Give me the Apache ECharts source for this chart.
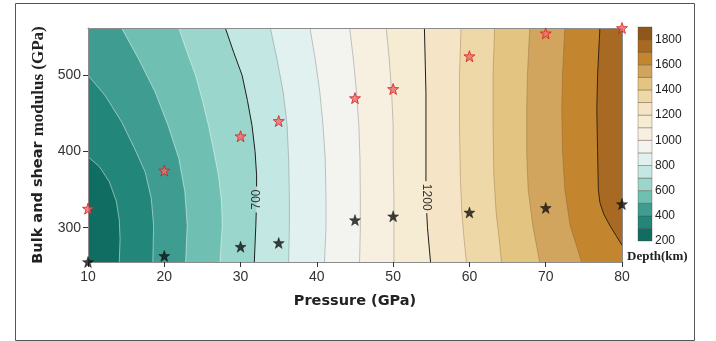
<!DOCTYPE html>
<html>
<head>
<meta charset="utf-8">
<title>Depth contour</title>
<script src="https://cdn.jsdelivr.net/npm/echarts@6/dist/echarts.min.js"></script>
<style>
html,body{margin:0;padding:0;background:#fff;}
#main{width:716px;height:341px;}
</style>
</head>
<body>
<div id="main"></div>
<script>
// star points (pressure GPa, modulus GPa)
var pressure=[10,20,30,35,45,50,60,70,80];
var redModulus=[325,375,420,440,470,482,525,555,562];
var blackModulus=[255,263,275,280,310,315,320,326,331];

var xTicks=[10,20,30,40,50,60,70,80];
var yTicks=[300,400,500];
var barTicks=[200,400,600,800,1000,1200,1400,1600,1800];

// depth bands 200..1900 step 100
var bandLevels=[200,300,400,500,600,700,800,900,1000,1100,1200,1300,1400,1500,1600,1700,1800];
var bandColors=['#0f6e61','#23867a','#3e9c90','#6fc0b3','#9ad6cb','#c3e7e3','#e1f1ef','#f3f3f0','#f7f0e1','#f6ebd3','#f5e5c6','#eed8a8','#e3c581','#d2a55e','#c3862f','#a86a22','#8e571b'];

// contour lines, [pressure, modulus]
var contourLevels=[300,400,500,600,700,800,900,1000,1100,1200,1300,1400,1500,1600,1700];
var c300=[[10,393],[11.5,380],[12.8,360],[13.7,335],[14.1,310],[14.2,285],[14.1,255]];
var c400=[[10,500],[12.2,474],[14.4,439],[16.1,404],[17.5,373],[18.3,338],[18.6,303],[18.5,255]];
var c500=[[14.4,562],[16.6,522],[18.8,478],[20.5,434],[21.9,391],[22.7,347],[23,303],[22.8,255]];
var c600=[[21.9,562],[23,530],[24.1,500],[25,467],[25.8,434],[26.5,400],[27.1,369],[27.5,335],[27.6,303],[27.3,255]];
var c700=[[28.0,562],[29.1,530],[30.2,500],[30.9,467],[31.5,434],[31.9,400],[32.1,369],[32.1,335],[32.0,303],[31.8,255]];
var c800=[[33.9,562],[34.8,520],[35.6,477],[36.1,435],[36.3,390],[36.4,340],[36.4,300],[36.3,255]];
var c900=[[39.1,562],[39.8,520],[40.4,477],[40.8,435],[41.1,390],[41.2,340],[41.2,300],[41.0,255]];
var c1000=[[44.3,562],[44.8,520],[45.2,477],[45.5,435],[45.65,390],[45.7,340],[45.7,300],[45.6,255]];
var c1100=[[49.1,562],[49.5,520],[49.8,477],[50,435],[50,390],[50.1,340],[50.1,300],[50.1,255]];
var c1200=[[54.1,562],[54.2,520],[54.3,477],[54.3,435],[54.3,390],[54.3,340],[54.5,300],[54.9,255]];
var c1300=[[58.9,562],[58.7,500],[58.7,434],[58.8,370],[59.0,320],[59.3,285],[59.6,255]];
var c1400=[[63.3,562],[63.1,500],[63.1,434],[63.2,370],[63.5,320],[63.9,285],[64.2,255]];
var c1500=[[67.9,562],[67.6,500],[67.5,455],[67.5,400],[67.7,350],[68.3,303],[69.2,255]];
var c1600=[[72.5,562],[72.2,500],[72.1,455],[72.2,400],[72.5,350],[73.2,303],[74.7,255]];
var c1700=[[77.1,562],[76.8,500],[76.7,455],[76.8,400],[76.9,350],[77.1,333],[77.6,318],[78.4,303],[79.2,290],[80,277]];
var contours=[c300,c400,c500,c600,c700,c800,c900,c1000,c1100,c1200,c1300,c1400,c1500,c1600,c1700];

var pMin=10,pMax=80,mMin=255,mMax=562;

function lineStyleFor(level){
	if(level==700||level==1200) return {stroke:'#1e1e1e',lineWidth:1};
	if(level==1700) return {stroke:'#3a2410',lineWidth:1};
	if(level<700) return {stroke:'rgba(255,255,255,0.6)',lineWidth:0.8};
	if(level<1200) return {stroke:'rgba(120,120,120,0.6)',lineWidth:0.7};
	return {stroke:'rgba(110,80,40,0.45)',lineWidth:0.7};
}

// point on polyline at pixel height y
function pointAtY(pts,y){
	for(var i=1;i<pts.length;i++){
		var a=pts[i-1],b=pts[i];
		if((a[1]-y)*(b[1]-y)<=0&&a[1]!=b[1]){
			var t=(y-a[1])/(b[1]-a[1]);
			return [a[0]+t*(b[0]-a[0]),y];
		}
	}
	return null;
}

function renderContour(params,api){
	var i=params.dataIndex;
	var line=contours[i],level=contourLevels[i];
	var pts=line.map(function(p){return api.coord(p);});
	var poly=pts.slice();
	if(line[line.length-1][0]<pMax) poly.push(api.coord([pMax,mMin]));
	poly.push(api.coord([pMax,mMax]));
	if(line[0][1]<mMax) poly.push(api.coord([pMin,mMax]));
	var children=[{type:'polygon',shape:{points:poly},style:{fill:bandColors[i+1]}}];
	var ls=lineStyleFor(level);
	var lab=null;
	if(level==700) lab={m:337,rot:Math.PI/2,half:13};
	if(level==1200) lab={m:340,rot:-Math.PI/2,half:16};
	if(lab){
		var yc=api.coord([pMin,lab.m])[1];
		var pTop=pointAtY(pts,yc-lab.half),pBot=pointAtY(pts,yc+lab.half),pc=pointAtY(pts,yc);
		var seg1=pts.filter(function(p){return p[1]<yc-lab.half;});seg1.push(pTop);
		var seg2=[pBot].concat(pts.filter(function(p){return p[1]>yc+lab.half;}));
		children.push({type:'polyline',shape:{points:seg1},style:{stroke:ls.stroke,lineWidth:ls.lineWidth,fill:null}});
		children.push({type:'polyline',shape:{points:seg2},style:{stroke:ls.stroke,lineWidth:ls.lineWidth,fill:null}});
		children.push({type:'text',x:pc[0],y:pc[1],rotation:lab.rot,style:{text:String(level),fill:'#333',font:'12px "Liberation Sans", Arial',align:'center',verticalAlign:'middle'}});
	}else{
		children.push({type:'polyline',shape:{points:pts},style:{stroke:ls.stroke,lineWidth:ls.lineWidth,fill:null}});
	}
	return {type:'group',children:children};
}

function renderBar(params,api){
	var lv=bandLevels[params.dataIndex];
	var p1=api.coord([0,lv+100]),p2=api.coord([1,lv]);
	return {type:'rect',shape:{x:p1[0],y:p1[1],width:p2[0]-p1[0],height:p2[1]-p1[1]},
		style:{fill:bandColors[params.dataIndex],stroke:'rgba(70,50,30,0.55)',lineWidth:0.6}};
}

var starPath='path://M0,-10L2.35,-3.24L9.51,-3.09L3.8,1.24L5.88,8.09L0,4.1L-5.88,8.09L-3.8,1.24L-9.51,-3.09L-2.35,-3.24Z';

var redData=[],blackData=[];
for(var k=0;k<pressure.length;k++){
	redData.push([pressure[k],redModulus[k]]);
	blackData.push([pressure[k],blackModulus[k]]);
}

var option={
	animation:false,
	backgroundColor:'#fff',
	grid:[
		{left:88,right:94,top:28,bottom:79,show:true,backgroundColor:bandColors[0],borderWidth:0},
		{left:638,top:27,width:14,height:214}
	],
	xAxis:[
		{gridIndex:0,type:'value',min:pMin,max:pMax,interval:10,position:'bottom',z:5,
			axisLine:{show:true,lineStyle:{color:'#8c8c8c',width:1}},
			axisTick:{show:true,length:5,lineStyle:{color:'#333'}},
			axisLabel:{fontSize:14,color:'#333',margin:8,fontFamily:'"Liberation Sans", Arial'},
			splitLine:{show:false},
			name:'Pressure (GPa)',nameLocation:'middle',nameGap:32,
			nameTextStyle:{fontSize:14.5,fontWeight:'bold',color:'#222',fontFamily:'"DejaVu Sans", Verdana'}},
		{gridIndex:0,type:'value',min:pMin,max:pMax,position:'top',z:5,
			axisLine:{show:true,lineStyle:{color:'#8c8c8c',width:1}},
			axisTick:{show:false},axisLabel:{show:false},splitLine:{show:false}},
		{gridIndex:1,type:'value',min:0,max:1,show:false}
	],
	yAxis:[
		{gridIndex:0,type:'value',min:mMin,max:mMax,position:'left',z:5,
			axisLine:{show:true,lineStyle:{color:'#8c8c8c',width:1}},
			axisTick:{show:true,length:5,customValues:yTicks,lineStyle:{color:'#333'}},
			axisLabel:{fontSize:14,color:'#333',margin:7,customValues:yTicks,fontFamily:'"Liberation Sans", Arial'},
			splitLine:{show:false},
			name:'{a|Bulk and shear }{b|modulus (GPa)}',nameLocation:'middle',nameGap:38,
			nameTextStyle:{color:'#222',rich:{
				a:{fontSize:14.5,fontWeight:'bold',color:'#222',fontFamily:'"DejaVu Sans", Verdana'},
				b:{fontSize:17,fontWeight:'bold',color:'#222',fontFamily:'"Liberation Serif", "Times New Roman"'}
			}}},
		{gridIndex:0,type:'value',min:mMin,max:mMax,position:'right',z:5,
			axisLine:{show:true,lineStyle:{color:'#8c8c8c',width:1}},
			axisTick:{show:false},axisLabel:{show:false},splitLine:{show:false}},
		{gridIndex:1,type:'value',min:200,max:1900,position:'right',
			axisLine:{show:false},axisTick:{show:false},splitLine:{show:false},
			axisLabel:{fontSize:12,color:'#222',margin:3,customValues:barTicks,fontFamily:'"Liberation Sans", Arial',
				formatter:function(v){return String(v);}}}
	],
	graphic:[
		{type:'rect',left:13,top:1,shape:{width:679,height:337},style:{fill:null,stroke:'#555',lineWidth:1},silent:true},
		{type:'text',left:627,top:250,style:{text:'Depth(km)',fill:'#222',font:'bold 13px "Liberation Serif", "Times New Roman"'}}
	],
	series:[
		{type:'custom',xAxisIndex:0,yAxisIndex:0,clip:true,renderItem:renderContour,
			data:contourLevels.map(function(l,i){return [i];}),encode:{x:-1,y:-1},z:2},
		{type:'custom',xAxisIndex:2,yAxisIndex:2,renderItem:renderBar,
			data:bandLevels.map(function(l,i){return [i];}),encode:{x:-1,y:-1},z:2},
		{name:'red',type:'scatter',xAxisIndex:0,yAxisIndex:0,clip:false,z:10,
			symbol:starPath,symbolSize:11,data:redData,
			itemStyle:{color:'#f06a6a',borderColor:'#d42020',borderWidth:1}},
		{name:'black',type:'scatter',xAxisIndex:0,yAxisIndex:0,clip:false,z:10,
			symbol:starPath,symbolSize:11,data:blackData,
			itemStyle:{color:'#111',borderColor:'#000',borderWidth:0.5}}
	]
};
var mychart=echarts.init(document.getElementById("main"));
mychart.setOption(option);
</script>
</body>
</html>
